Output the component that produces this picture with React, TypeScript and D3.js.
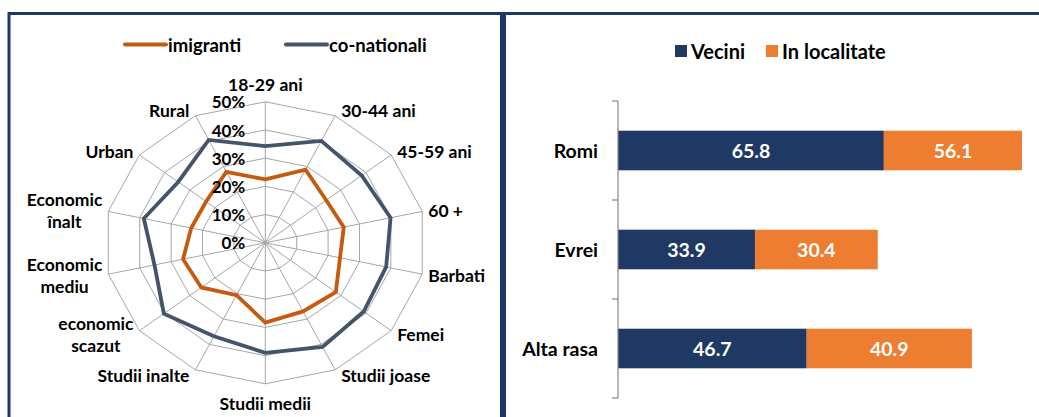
import React, { useEffect, useRef } from "react";
import * as d3 from "d3";

// ---------- Data ----------
const radarCategories = [
  "18-29 ani", "30-44 ani", "45-59 ani", "60 +", "Barbati", "Femei",
  "Studii joase", "Studii medii", "Studii inalte", "economic\nscazut",
  "Economic\nmediu", "Economic\nînalt", "Urban", "Rural",
];
const imigranti = [22.5, 28.8, 24.2, 25, 23.8, 28, 27, 28.3, 20.6, 25.4, 26.2, 23.6, 23.5, 27.9];
const coNationali = [34.3, 40.1, 38.3, 39.9, 38.5, 39.1, 41, 39, 36.8, 40.3, 35.3, 38.7, 34.6, 40.5];
const radarTicks = [0, 10, 20, 30, 40, 50];
const radarSeriesNames = ["imigranti", "co-nationali"];

const barCategories = ["Romi", "Evrei", "Alta rasa"];
const vecini = [65.8, 33.9, 46.7];
const inLocalitate = [56.1, 30.4, 40.9];
const barSeriesNames = ["Vecini", "In localitate"];

const FONT = "Lato, 'Open Sans', sans-serif";
const NAVY = "#1F3864";
const ORANGE_LINE = "#C55A11";
const SLATE = "#44546A";
const BAR_BLUE = "#203864";
const BAR_ORANGE = "#ED7D31";

export default function App() {
  const ref = useRef<SVGSVGElement | null>(null);

  useEffect(() => {
    const svg = d3.select(ref.current);
    svg.selectAll("*").remove();

    // panels
    svg.append("rect").attr("x", 9).attr("y", 13.5).attr("width", 492.5).attr("height", 420)
      .attr("fill", "none").attr("stroke", NAVY).attr("stroke-width", 3);
    svg.append("rect").attr("x", 504.5).attr("y", 13.5).attr("width", 560).attr("height", 420)
      .attr("fill", "none").attr("stroke", NAVY).attr("stroke-width", 3);

    // ---------- Radar ----------
    const cx = 265.3, cy = 242.8;
    const rx = d3.scaleLinear().domain([0, 50]).range([0, 161]);
    const ry = d3.scaleLinear().domain([0, 50]).range([0, 141]);
    const n = radarCategories.length;
    const ang = (i: number) => (i * 2 * Math.PI) / n;
    const pt = (i: number, v: number): [number, number] => [
      cx + rx(v) * Math.sin(ang(i)),
      cy - ry(v) * Math.cos(ang(i)),
    ];

    const g = svg.append("g");
    const idx = d3.range(n);
    radarTicks.filter((t) => t > 0).forEach((t) => {
      g.append("path")
        .attr("d", d3.line().curve(d3.curveLinearClosed)(idx.map((i) => pt(i, t))))
        .attr("fill", "none").attr("stroke", "#A6A6A6").attr("stroke-width", 1);
    });
    idx.forEach((i) => {
      const [x, y] = pt(i, 50);
      g.append("line").attr("x1", cx).attr("y1", cy).attr("x2", x).attr("y2", y)
        .attr("stroke", "#A6A6A6").attr("stroke-width", 1);
    });

    const series = [
      { name: radarSeriesNames[0], values: imigranti, color: ORANGE_LINE },
      { name: radarSeriesNames[1], values: coNationali, color: SLATE },
    ];
    series.forEach((s) => {
      g.append("path")
        .attr("d", d3.line().curve(d3.curveLinearClosed)(s.values.map((v, i) => pt(i, v))))
        .attr("fill", "none").attr("stroke", s.color).attr("stroke-width", 3.8)
        .attr("stroke-linejoin", "miter");
    });

    // tick labels
    radarTicks.forEach((t) => {
      g.append("text").attr("x", cx - 20).attr("y", cy - ry(t))
        .attr("text-anchor", "end").attr("dominant-baseline", "central")
        .attr("font-family", FONT).attr("font-weight", 700).attr("font-size", 17)
        .attr("fill", "#000").text(`${t}%`);
    });

    // category labels
    radarCategories.forEach((c, i) => {
      const a = ang(i);
      const s = Math.sin(a), co = Math.cos(a);
      const [vx, vy] = pt(i, 50);
      const lines = c.split("\n");
      const lh = 22;
      const t = g.append("text").attr("font-family", FONT).attr("font-weight", 700)
        .attr("font-size", 17.5).attr("fill", "#000");
      let x = vx, yc = vy;
      if (Math.abs(s) < 0.1) {
        yc = vy + (co > 0 ? -17 : 20);
      } else {
        x = vx + (s > 0 ? 6 : -6);
        yc = vy - 6 * co;
      }
      lines.forEach((l, k) => {
        t.append("tspan").attr("x", x).attr("y", yc + (k - (lines.length - 1) / 2) * lh)
          .attr("dominant-baseline", "central").text(l);
      });
      const tspans = t.selectAll<SVGTSpanElement, unknown>("tspan").nodes();
      const widths = tspans.map((nd) => nd.getComputedTextLength());
      const maxW = Math.max(...widths);
      t.attr("text-anchor", "middle");
      if (Math.abs(s) >= 0.1) {
        const center = s > 0 ? x + maxW / 2 : x - maxW / 2;
        tspans.forEach((nd) => nd.setAttribute("x", String(center)));
      }
    });

    // legend (left)
    const legL = svg.append("g");
    const legItems = [
      { name: radarSeriesNames[0], color: ORANGE_LINE, x: 125 },
      { name: radarSeriesNames[1], color: SLATE, x: 286 },
    ];
    legItems.forEach((it) => {
      legL.append("line").attr("x1", it.x).attr("x2", it.x + 41).attr("y1", 44.5).attr("y2", 44.5)
        .attr("stroke", it.color).attr("stroke-width", 4).attr("stroke-linecap", "round");
      legL.append("text").attr("x", it.x + 43).attr("y", 44.5).attr("dominant-baseline", "central")
        .attr("font-family", FONT).attr("font-weight", 700).attr("font-size", 18.5)
        .attr("fill", "#000").text(it.name);
    });

    // ---------- Bars ----------
    const x = d3.scaleLinear().domain([0, 100]).range([618, 1022]);
    const y = d3.scaleBand<string>().domain(barCategories).range([101, 398])
      .paddingInner(0.6).paddingOuter(0.3);
    const bg = svg.append("g");
    barCategories.forEach((c, i) => {
      const y0 = y(c)!;
      const h = y.bandwidth();
      const a0 = 0, a1 = vecini[i];
      const b0 = vecini[i], b1 = Math.min(100, vecini[i] + inLocalitate[i]);
      bg.append("rect").attr("x", x(a0)).attr("y", y0).attr("width", x(a1) - x(a0)).attr("height", h)
        .attr("fill", BAR_BLUE);
      bg.append("rect").attr("x", x(b0)).attr("y", y0).attr("width", x(b1) - x(b0)).attr("height", h)
        .attr("fill", BAR_ORANGE);
      bg.append("text").attr("x", (x(a0) + x(a1)) / 2).attr("y", y0 + h / 2)
        .attr("text-anchor", "middle").attr("dominant-baseline", "central")
        .attr("font-family", FONT).attr("font-weight", 700).attr("font-size", 19.5)
        .attr("fill", "#fff").text(vecini[i].toFixed(1));
      bg.append("text").attr("x", (x(b0) + x(b1)) / 2).attr("y", y0 + h / 2)
        .attr("text-anchor", "middle").attr("dominant-baseline", "central")
        .attr("font-family", FONT).attr("font-weight", 700).attr("font-size", 19.5)
        .attr("fill", "#fff").text(inLocalitate[i].toFixed(1));
      bg.append("text").attr("x", 598).attr("y", y0 + h / 2)
        .attr("text-anchor", "end").attr("dominant-baseline", "central")
        .attr("font-family", FONT).attr("font-weight", 700).attr("font-size", 19.5)
        .attr("fill", "#000").text(c);
    });
    // axis
    const [r0, r1] = y.range();
    bg.append("line").attr("x1", 618).attr("x2", 618).attr("y1", r0).attr("y2", r1)
      .attr("stroke", "#868686").attr("stroke-width", 1.2);
    const step = y.step();
    d3.range(barCategories.length + 1).forEach((k) => {
      const yy = r0 + k * step;
      bg.append("line").attr("x1", 612).attr("x2", 618).attr("y1", yy).attr("y2", yy)
        .attr("stroke", "#868686").attr("stroke-width", 1.2);
    });

    // legend (right)
    const legR = svg.append("g");
    const rItems = [
      { name: barSeriesNames[0], color: BAR_BLUE, x: 675 },
      { name: barSeriesNames[1], color: BAR_ORANGE, x: 766 },
    ];
    rItems.forEach((it) => {
      legR.append("rect").attr("x", it.x).attr("y", 45).attr("width", 12).attr("height", 12)
        .attr("fill", it.color);
      legR.append("text").attr("x", it.x + 16).attr("y", 50.5).attr("dominant-baseline", "central")
        .attr("font-family", FONT).attr("font-weight", 700).attr("font-size", 20)
        .attr("fill", "#000").text(it.name);
    });
  }, []);

  return (
    <svg
      ref={ref}
      width={1039}
      height={417}
      style={{ position: "absolute", left: 0, top: 0, background: "#fff" }}
    />
  );
}
